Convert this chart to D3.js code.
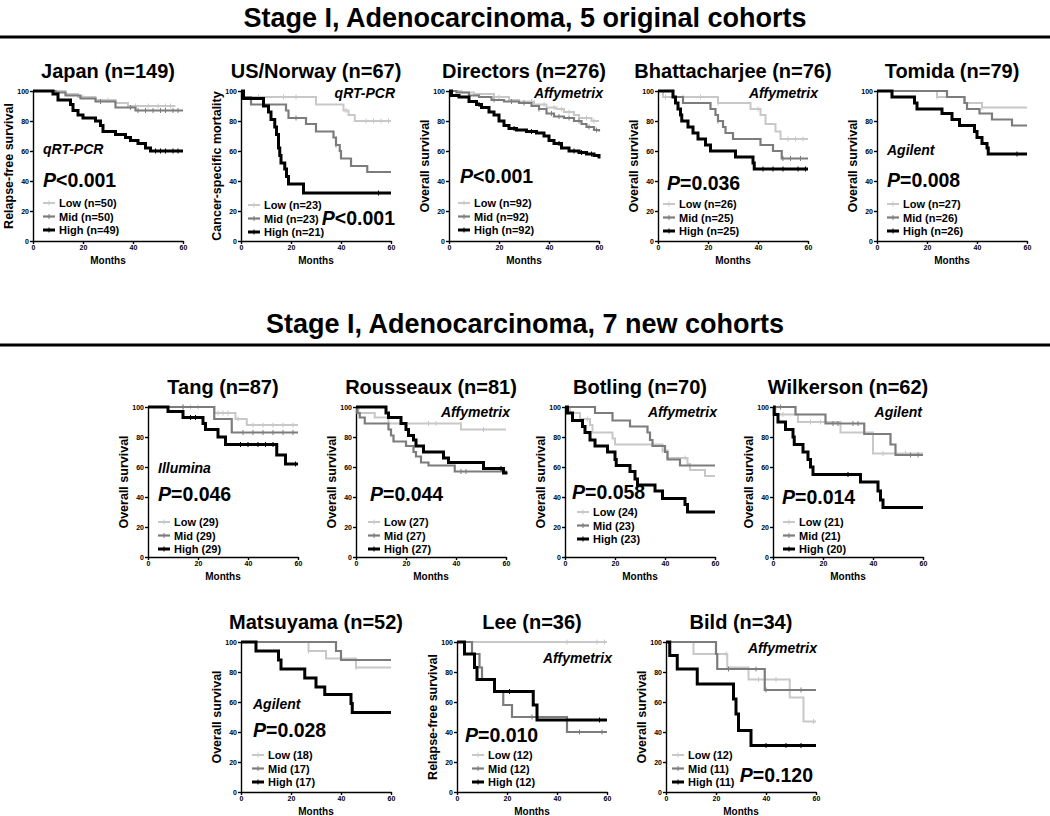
<!DOCTYPE html>
<html><head><meta charset="utf-8">
<script src="https://cdn.jsdelivr.net/npm/d3@7"></script>
<style>body{margin:0;background:#fff}svg text{font-family:"Liberation Sans",Arial,sans-serif;font-weight:bold;fill:#000}</style>
</head><body><svg id="c" width="1050" height="816"></svg>
<script>
const groups = ["Low","Mid","High"];
const xTicks = [0,20,40,60];
const yTicks = [0,20,40,60,80,100];
const sectionTitles = ["Stage I, Adenocarcinoma, 5 original cohorts","Stage I, Adenocarcinoma, 7 new cohorts"];

// Japan
const japanLow  = [[0,100],[13,98],[18,96],[25,94],[33,92],[38,90],[57,90]];
const japanMid  = [[0,100],[9,99],[13,97],[19,95],[25,93],[33,89],[41,87],[60,87]];
const japanHigh = [[0,100],[8,98],[10,94],[15,91],[16,87],[18,84],[20,82],[25,80],[27,77],[28,73],[33,71],[37,69],[39,67],[42,65],[45,62],[47,60],[60,60]];
const japanCens = [[20,30,38,41,46,50,53,55],[27,39,42,45,48,51,53,56,58],[49,51,53,56,58]];
// US/Norway
const usLow  = [[0,100],[1,96],[30,91],[41,87],[43,84],[45.5,80],[60,80]];
const usMid  = [[0,100],[1,96],[4,91],[18,87],[19,82],[26,78],[30,73],[37,69],[38,64],[39.5,60],[40,55],[44,50],[50.5,46],[60,46]];
const usHigh = [[0,100],[1,95],[9,90],[11,86],[12,81],[13.5,76],[14.2,71],[15,62],[15.5,57],[16,52],[17.5,48],[18.2,43],[19,38],[25,32],[60,32]];
const usCens = [[7,17,22,42,50,53,56,59],[22,38],[55]];
// Directors
const dirLow  = [[0,100],[5,99],[10,98],[18,96],[24,94],[28,93],[34,91],[39,89],[43,88],[46,86],[50,84],[52,82],[57,80],[60,80]];
const dirMid  = [[0,100],[3,99],[8,97],[12,96],[17,94],[22,93],[28,92],[33,90],[36,88],[39,85],[42,83],[46,82],[50,80],[53,78],[55,76],[58,74],[60,73]];
const dirHigh = [[0,100],[1,97],[4,96],[8,93],[11,91],[13,89],[16,86],[18,84],[20,80],[22,77],[24,75],[27,74],[31,73],[35,72],[38,70],[40,67],[42,65],[45,62],[48,60],[52,59],[55,58],[58,57],[60,55]];
const dirCens = [[20,28,33,38,42,45,48,52,55,58],[18,25,30,36,41,44,48,52,56,59],[12,26,33,44,50,53,57]];
// Bhattacharjee
const bhLow  = [[0,100],[2,96],[24,92],[37,88],[41,84],[43,78],[47,73],[49,68],[60,68]];
const bhMid  = [[0,100],[6,96],[10,92],[21,88],[23,84],[24,80],[26,76],[27,72],[30,68],[41,64],[46,60],[49.5,55],[60,55]];
const bhHigh = [[0,100],[6,96],[7,92],[8,88],[9,84],[9.5,80],[12,76],[14,72],[16,68],[19,64],[21,60],[31,56],[38,52],[38.5,48],[60,48]];
const bhCens = [[3,10,17,24,40,52,55,58],[24,50,53,57],[42,46,50,56,59]];
// Tomida
const toLow  = [[0,100],[24,96],[35,92],[42,89],[60,89]];
const toMid  = [[0,100],[28,96],[35,92],[36,88],[41,85],[46,81],[54,77],[60,77]];
const toHigh = [[0,100],[6,96],[15,92],[16,88],[26,85],[30,81],[33,77],[39,73],[40,69],[42,65],[44,62],[44.5,58],[60,58]];
const toCens = [[24,42],[],[56]];
// Tang
const taLow  = [[0,100],[26.5,96],[35,92],[39.5,88],[60,88]];
const taMid  = [[0,100],[26.5,92],[33.5,83],[60,83]];
const taHigh = [[0,100],[8,97],[14,93],[22,89],[23,85],[28,80],[31,75],[51.5,68],[55,62],[60,62]];
const taCens = [[14,17,20,28,30,32,36,42,46,50,54,58],[14,38,42,46,50,54,58],[17,19,37,40,44,47,50,59]];
// Rousseaux
const roLow  = [[0,100],[1,96],[7.5,93],[13,89],[42,85],[60,85]];
const roMid  = [[0,100],[0.5,96],[1.5,93],[3.5,89],[13,85],[14,81],[15,77],[20,74],[23,70],[24,67],[26,63],[29,61],[39.5,57],[60,56]];
const roHigh = [[0,100],[12,96],[13,93],[18,89],[20,85],[21,81],[23,78],[24,74],[27,70],[35,66],[37,63],[51,59],[59,56],[60,55]];
const roCens = [[29,32,51],[42,44],[58]];
// Botling
const boLow  = [[0,100],[2,96],[6,92],[10,88],[11,83],[19,79],[20,75],[39,71],[41,66],[49,62],[50,58],[56,54],[60,54]];
const boMid  = [[0,100],[12,96],[19,91],[26,87],[33,83],[34,78],[35,74],[40,70],[41,65],[46,61],[60,61]];
const boHigh = [[0,100],[1,96],[3,91],[7,87],[8,83],[10,78],[12,74],[17,70],[20,65],[20.5,61],[26,57],[28,52],[29,48],[36,44],[39,39],[48,35],[49,30],[60,30]];
const boCens = [[9,39,48],[],[]];
// Wilkerson
const wiLow  = [[0,100],[1,95],[10,90],[27,83],[40,69],[60,69]];
const wiMid  = [[0,100],[9,95],[21,89],[36.5,82],[47,75],[49,68],[60,68]];
const wiHigh = [[0,100],[0.5,95],[2,90],[5,85],[8,80],[8.5,75],[12,70],[14,65],[15,60],[16,55],[35,50],[42,44],[43,38],[44,33],[60,33]];
const wiCens = [[4,15,19,44,53],[3,24,26,32,34,55,58],[30]];
// Matsuyama
const maLow  = [[0,100],[27,94],[34,89],[46,83],[60,83]];
const maMid  = [[0,100],[38,94],[40,88],[60,88]];
const maHigh = [[0,100],[6,94],[15,88],[16,82],[25.5,76],[30,70],[33.5,65],[44,59],[44.5,53],[60,53]];
const maCens = [[27,46],[],[]];
// Lee
const leLow  = [[0,100],[60,100]];
const leMid  = [[0,100],[6,92],[9,83],[10,75],[15,67],[18.5,58],[22,50],[44,40],[60,40]];
const leHigh = [[0,100],[3,92],[7,83],[8,75],[15,67],[30.5,58],[32,48],[60,48]];
const leCens = [[44,56,59],[30,49,58],[21,57]];
// Bild
const biLow  = [[0,100],[11,92],[24.5,83],[33,75],[49.5,63],[55,47],[60,47]];
const biMid  = [[0,100],[20,92],[20.5,82],[39.5,68],[60,68]];
const biHigh = [[0,100],[1.5,91],[4.5,82],[12.5,72],[27,62],[28,52],[29,41],[34,31],[60,31]];
const biCens = [[24,37,44,59],[25,36,40,54],[40,48,54]];

const panels = [
 {t:"Japan (n=149)", x:33, y:91, yl:"Relapse-free survival", s:[japanLow,japanMid,japanHigh], c:japanCens, n:["n=50","n=50","n=49"], pl:"qRT-PCR", plp:[10,63,"start"], p:"<0.001", pp:[10,96,"start"], lg:[10,112]},
 {t:"US/Norway (n=67)", x:241, y:91, yl:"Cancer-specific mortality", s:[usLow,usMid,usHigh], c:usCens, n:["n=23","n=23","n=21"], pl:"qRT-PCR", plp:[154,7,"end"], p:"<0.001", pp:[154,134,"end"], lg:[7,114]},
 {t:"Directors (n=276)", x:449, y:91, yl:"Overall survival", s:[dirLow,dirMid,dirHigh], c:dirCens, n:["n=92","n=92","n=92"], pl:"Affymetrix", plp:[154,7,"end"], p:"<0.001", pp:[11,92,"start"], lg:[9,112]},
 {t:"Bhattacharjee (n=76)", x:658, y:91, yl:"Overall survival", s:[bhLow,bhMid,bhHigh], c:bhCens, n:["n=26","n=25","n=25"], pl:"Affymetrix", plp:[160,7,"end"], p:"=0.036", pp:[9,99,"start"], lg:[5,113]},
 {t:"Tomida (n=79)", x:877, y:91, yl:"Overall survival", s:[toLow,toMid,toHigh], c:toCens, n:["n=27","n=26","n=26"], pl:"Agilent", plp:[10,64,"start"], p:"=0.008", pp:[10,96,"start"], lg:[10,113]},
 {t:"Tang (n=87)", x:148, y:407, yl:"Overall survival", s:[taLow,taMid,taHigh], c:taCens, n:["29","29","29"], pl:"Illumina", plp:[10,66,"start"], p:"=0.046", pp:[10,94,"start"], lg:[10,115]},
 {t:"Rousseaux (n=81)", x:356, y:407, yl:"Overall survival", s:[roLow,roMid,roHigh], c:roCens, n:["27","27","27"], pl:"Affymetrix", plp:[154,10,"end"], p:"=0.044", pp:[14,94,"start"], lg:[12,115]},
 {t:"Botling (n=70)", x:565, y:407, yl:"Overall survival", s:[boLow,boMid,boHigh], c:boCens, n:["24","23","23"], pl:"Affymetrix", plp:[152,10,"end"], p:"=0.058", pp:[7,92,"start"], lg:[12,105]},
 {t:"Wilkerson (n=62)", x:773, y:407, yl:"Overall survival", s:[wiLow,wiMid,wiHigh], c:wiCens, n:["21","21","20"], pl:"Agilent", plp:[149,10,"end"], p:"=0.014", pp:[9,97,"start"], lg:[10,115]},
 {t:"Matsuyama (n=52)", x:241, y:642, yl:"Overall survival", s:[maLow,maMid,maHigh], c:maCens, n:["18","17","17"], pl:"Agilent", plp:[12,67,"start"], p:"=0.028", pp:[12,95,"start"], lg:[11,113]},
 {t:"Lee (n=36)", x:457, y:642, yl:"Relapse-free survival", s:[leLow,leMid,leHigh], c:leCens, n:["12","12","12"], pl:"Affymetrix", plp:[155,21,"end"], p:"=0.010", pp:[8,100,"start"], lg:[15,113]},
 {t:"Bild (n=34)", x:666, y:642, yl:"Overall survival", s:[biLow,biMid,biHigh], c:biCens, n:["12","11","11"], pl:"Affymetrix", plp:[151,11,"end"], p:"=0.120", pp:[147,140,"end"], lg:[6,113]}
];

const colors = ["#c8c8c8","#7c7c7c","#000000"];
const widths = [2,2.2,3];
const W = 150, H = 150;
const svg = d3.select("#c");

const secY = [[27,37],[333,345]];
sectionTitles.forEach((t,i)=>{
  svg.append("text").attr("x",525).attr("y",secY[i][0]).attr("text-anchor","middle")
    .style("font-size","27px").text(t);
  svg.append("line").attr("x1",0).attr("x2",1050).attr("y1",secY[i][1]).attr("y2",secY[i][1])
    .attr("stroke","#000").attr("stroke-width",3);
});

const x = d3.scaleLinear().domain([0,60]).range([0,W]);
const y = d3.scaleLinear().domain([0,100]).range([H,0]);
const line = d3.line().x(d=>x(d[0])).y(d=>y(d[1])).curve(d3.curveStepAfter);
function survAt(ser,t){let s=100;for(const p of ser){if(p[0]<=t)s=p[1];}return s;}

panels.forEach(P=>{
  const g = svg.append("g").attr("transform",`translate(${P.x},${P.y})`);
  g.append("text").attr("x",W/2).attr("y",-13).attr("text-anchor","middle").style("font-size","20px").text(P.t);
  const ya = g.append("g").call(d3.axisLeft(y).tickValues(yTicks).tickSize(3).tickSizeOuter(0).tickPadding(1));
  const xa = g.append("g").attr("transform",`translate(0,${H})`).call(d3.axisBottom(x).tickValues(xTicks).tickSize(3).tickSizeOuter(0).tickPadding(1));
  [ya,xa].forEach(a=>{a.selectAll("path,line").attr("stroke","#000").attr("stroke-width",1.4);a.selectAll("text").attr("fill","#000").style("font-size","7px").style("font-family","Liberation Sans,Arial").style("font-weight","bold");});
  g.append("text").attr("transform",`translate(-24,${H/2}) rotate(-90)`).attr("text-anchor","middle").attr("dy","0.35em").style("font-size","12.5px").text(P.yl);
  g.append("text").attr("x",W/2).attr("y",H+23).attr("text-anchor","middle").style("font-size","10px").text("Months");
  P.s.forEach((ser,i)=>{
    g.append("path").datum(ser).attr("d",line).attr("fill","none").attr("stroke",colors[i]).attr("stroke-width",widths[i]);
    P.c[i].forEach(t=>{
      const s=survAt(ser,t);
      g.append("line").attr("x1",x(t)).attr("x2",x(t)).attr("y1",y(s)-2.5).attr("y2",y(s)+2.5).attr("stroke",colors[i]).attr("stroke-width",1);
    });
  });
  g.append("text").attr("x",P.plp[0]).attr("y",P.plp[1]).attr("text-anchor",P.plp[2]).style("font-size","14px").style("font-style","italic").text(P.pl);
  const pt = g.append("text").attr("x",P.pp[0]).attr("y",P.pp[1]).attr("text-anchor",P.pp[2]).style("font-size","19.5px");
  pt.append("tspan").style("font-style","italic").text("P");
  pt.append("tspan").text(P.p);
  groups.forEach((gr,i)=>{
    const ly = P.lg[1]+i*13.5;
    g.append("line").attr("x1",P.lg[0]).attr("x2",P.lg[0]+12).attr("y1",ly).attr("y2",ly).attr("stroke",colors[i]).attr("stroke-width",widths[i]);
    g.append("line").attr("x1",P.lg[0]+6).attr("x2",P.lg[0]+6).attr("y1",ly-2.5).attr("y2",ly+2.5).attr("stroke",colors[i]).attr("stroke-width",1);
    g.append("text").attr("x",P.lg[0]+16).attr("y",ly+4).style("font-size","11px").text(`${gr} (${P.n[i]})`);
  });
});
</script></body></html>
